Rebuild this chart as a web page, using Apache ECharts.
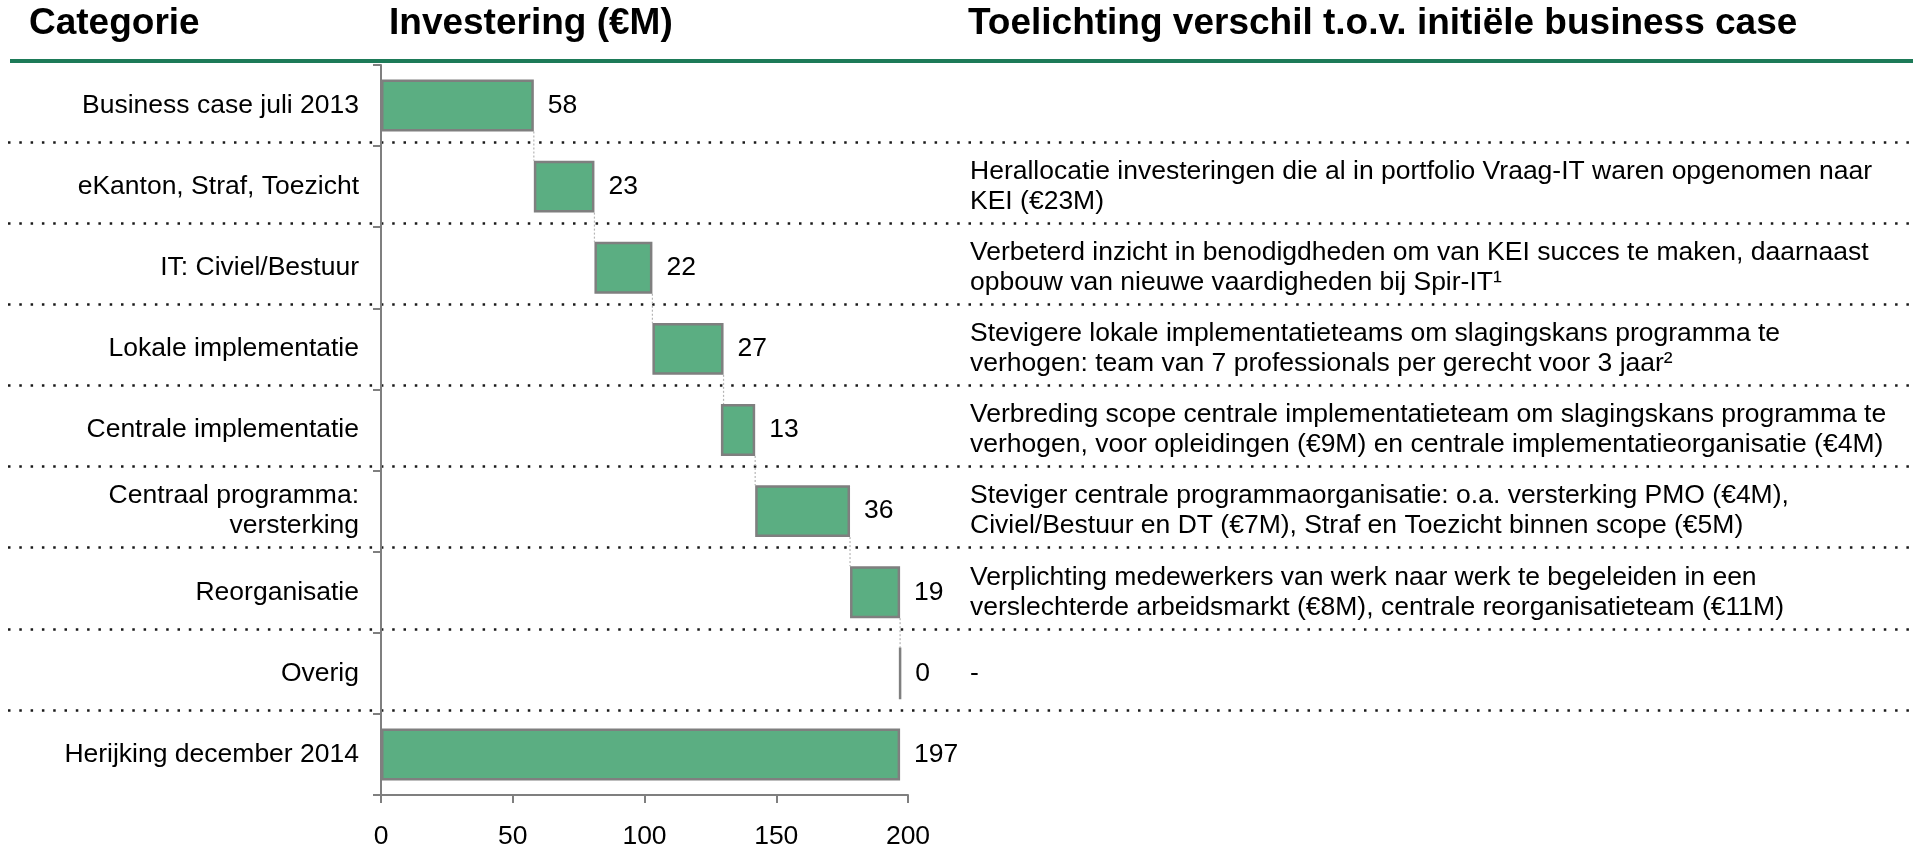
<!DOCTYPE html>
<html>
<head>
<meta charset="utf-8">
<title>KEI herijking investering</title>
<script src="https://cdn.jsdelivr.net/npm/echarts@6/dist/echarts.min.js"></script>
<style>
  html, body { margin: 0; padding: 0; background: #fff; }
  #chart { width: 1917px; height: 844px; }
</style>
</head>
<body>
<div id="chart"></div>
<script>
// data
const categories = [
  'Business case juli 2013',
  'eKanton, Straf, Toezicht',
  'IT: Civiel/Bestuur',
  'Lokale implementatie',
  'Centrale implementatie',
  'Centraal programma:\nversterking',
  'Reorganisatie',
  'Overig',
  'Herijking december 2014'
];
const amounts = [58, 23, 22, 27, 13, 36, 19, 0, 197];
const barStart = [0, 58, 81, 103, 129, 142, 178, 197, 0];
const notes = [
  '',
  'Herallocatie investeringen die al in portfolio Vraag-IT waren opgenomen naar\nKEI (€23M)',
  'Verbeterd inzicht in benodigdheden om van KEI succes te maken, daarnaast\nopbouw van nieuwe vaardigheden bij Spir-IT¹',
  'Stevigere lokale implementatieteams om slagingskans programma te\nverhogen: team van 7 professionals per gerecht voor 3 jaar²',
  'Verbreding scope centrale implementatieteam om slagingskans programma te\nverhogen, voor opleidingen (€9M) en centrale implementatieorganisatie (€4M)',
  'Steviger centrale programmaorganisatie: o.a. versterking PMO (€4M),\nCiviel/Bestuur en DT (€7M), Straf en Toezicht binnen scope (€5M)',
  'Verplichting medewerkers van werk naar werk te begeleiden in een\nverslechterde arbeidsmarkt (€8M), centrale reorganisatieteam (€11M)',
  '-',
  ''
];
const xTicks = [0, 50, 100, 150, 200];
const headers = ['Categorie', 'Investering (€M)', 'Toelichting verschil t.o.v. initiële business case'];

const font = '"Liberation Sans", Arial, sans-serif';
const textSize = 26.5;
const green = '#5bae82';
const edge = '#7f7f7f';
const barRatio = 0.64;

// ends of the floating bars, used for the thin connectors
const connectors = [];
for (let i = 0; i < categories.length - 2; i++) {
  connectors.push([barStart[i] + amounts[i], i]);
}

const chart = echarts.init(document.getElementById('chart'));

chart.setOption({
  animation: false,
  textStyle: { fontFamily: font },
  title: [
    { text: headers[0], left: 29, top: 5, padding: 0 },
    { text: headers[1], left: 389, top: 5, padding: 0 },
    { text: headers[2], left: 968, top: 5, padding: 0 }
  ].map(t => Object.assign(t, {
    textStyle: { fontFamily: font, fontSize: 37, fontWeight: 'bold', color: '#000' }
  })),
  graphic: [{
    type: 'line',
    shape: { x1: 10, y1: 61, x2: 1913, y2: 61 },
    style: { stroke: '#1d7a58', lineWidth: 4 },
    silent: true
  }],
  grid: [
    { left: 381, right: 1009, top: 65, bottom: 49, outerBoundsMode: 'none' },
    { left: 8, right: 0, top: 61, bottom: 53, outerBoundsMode: 'none' }
  ],
  xAxis: [{
    gridIndex: 0,
    type: 'value',
    min: 0,
    max: 200,
    interval: 50,
    axisLine: { show: true, lineStyle: { color: edge, width: 2 } },
    axisTick: { show: true, length: 8, lineStyle: { color: edge, width: 2 } },
    axisLabel: {
      margin: 28, fontSize: textSize, color: '#000', fontFamily: font,
      formatter: v => (xTicks.indexOf(v) >= 0 ? String(v) : '')
    },
    splitLine: { show: false }
  }, {
    gridIndex: 1,
    type: 'value',
    show: false
  }],
  yAxis: [{
    gridIndex: 0,
    type: 'category',
    inverse: true,
    data: categories,
    axisLine: { show: true, lineStyle: { color: edge, width: 2 } },
    axisTick: { show: true, length: 8, lineStyle: { color: edge, width: 2 } },
    axisLabel: { margin: 22, fontSize: textSize, lineHeight: 30, color: '#000', fontFamily: font },
    splitLine: { show: false }
  }, {
    gridIndex: 0,
    type: 'category',
    inverse: true,
    position: 'right',
    data: notes,
    axisLine: { show: false },
    axisTick: { show: false },
    axisLabel: { margin: 62, align: 'left', fontSize: textSize, lineHeight: 30, color: '#000', fontFamily: font },
    splitLine: { show: false }
  }, {
    gridIndex: 1,
    type: 'category',
    inverse: true,
    data: categories,
    axisLine: { show: false },
    axisTick: { show: false },
    axisLabel: { show: false },
    splitLine: {
      show: true,
      showMinLine: false,
      showMaxLine: false,
      lineStyle: { color: '#1a1a1a', width: 2.5, type: [2.5, 8.8] }
    }
  }],
  series: [{
    name: 'start',
    type: 'bar',
    stack: 'w',
    barWidth: (barRatio * 100) + '%',
    itemStyle: { color: 'transparent' },
    emphasis: { disabled: true },
    data: barStart
  }, {
    name: 'Investering',
    type: 'bar',
    stack: 'w',
    barWidth: (barRatio * 100) + '%',
    itemStyle: { color: green, borderColor: edge, borderWidth: 2.5 },
    label: {
      show: true,
      position: 'right',
      distance: 14,
      fontSize: textSize,
      color: '#000',
      fontFamily: font
    },
    data: amounts
  }, {
    name: 'connector',
    type: 'custom',
    silent: true,
    renderItem: function (params, api) {
      const p = api.coord([api.value(0), api.value(1)]);
      const band = api.size([0, 1])[1];
      const half = band * barRatio / 2;
      return {
        type: 'line',
        shape: { x1: p[0], y1: p[1] + half, x2: p[0], y2: p[1] + band - half },
        style: { stroke: '#b5b5b5', lineWidth: 1.2, lineDash: [2, 2] }
      };
    },
    encode: { x: 0, y: 1 },
    data: connectors,
    z: 1
  }]
});
</script>
</body>
</html>
